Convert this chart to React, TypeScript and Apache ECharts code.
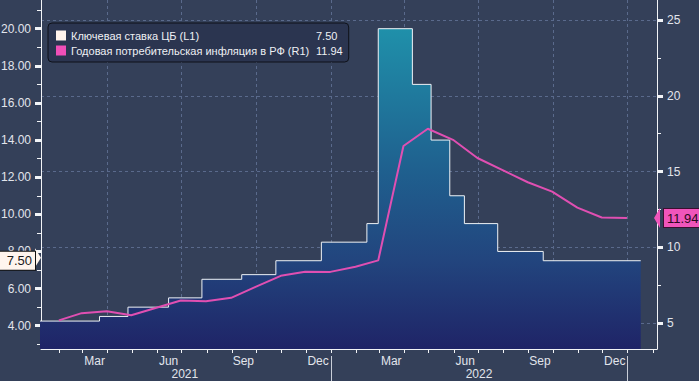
import React, { useEffect, useRef } from 'react';
import * as echarts from 'echarts';

// Key rate (L1): change dates and values (step)
const rateDates = ['2021-01-01', '2021-03-22', '2021-04-26', '2021-06-15', '2021-07-26', '2021-09-13', '2021-10-25', '2021-12-20', '2022-02-14', '2022-02-28', '2022-04-11', '2022-05-04', '2022-05-27', '2022-06-14', '2022-07-25', '2022-09-19', '2023-01-17'];
const rateValues = [4.25, 4.5, 5.0, 5.5, 6.5, 6.75, 7.5, 8.5, 9.5, 20, 17, 14, 11, 9.5, 8, 7.5, 7.5];

// Annual CPI inflation (R1), month-end points
const inflationDates = ['2021-01-31', '2021-02-28', '2021-03-31', '2021-04-30', '2021-05-31', '2021-06-30', '2021-07-31', '2021-08-31', '2021-09-30', '2021-10-31', '2021-11-30', '2021-12-31', '2022-01-31', '2022-02-28', '2022-03-31', '2022-04-30', '2022-05-31', '2022-06-30', '2022-07-31', '2022-08-31', '2022-09-30', '2022-10-31', '2022-11-30', '2022-12-31'];
const inflationValues = [5.19, 5.67, 5.79, 5.53, 6.02, 6.5, 6.46, 6.68, 7.4, 8.13, 8.4, 8.39, 8.73, 9.15, 16.69, 17.83, 17.1, 15.9, 15.1, 14.3, 13.68, 12.63, 11.98, 11.94];

const seriesNames = ['Ключевая ставка ЦБ (L1)', 'Годовая потребительская инфляция в РФ (R1)'];

// Axis ticks / labels
const monthNames = ['Jan', 'Feb', 'Mar', 'Apr', 'May', 'Jun', 'Jul', 'Aug', 'Sep', 'Oct', 'Nov', 'Dec'];
const monthTickDates = ['2021-02-01', '2021-03-01', '2021-04-01', '2021-05-01', '2021-06-01', '2021-07-01', '2021-08-01', '2021-09-01', '2021-10-01', '2021-11-01', '2021-12-01', '2022-01-01', '2022-02-01', '2022-03-01', '2022-04-01', '2022-05-01', '2022-06-01', '2022-07-01', '2022-08-01', '2022-09-01', '2022-10-01', '2022-11-01', '2022-12-01', '2023-01-01', '2023-02-01'];
const monthLabelDates = ['2021-03-16', '2021-06-15', '2021-09-15', '2021-12-16', '2022-03-16', '2022-06-15', '2022-09-15', '2022-12-16'];
const quarterGridDates = ['2021-04-01', '2021-07-01', '2021-10-01', '2022-01-01', '2022-04-01', '2022-07-01', '2022-10-01', '2023-01-01'];
const yearSeparatorDates = ['2022-01-01', '2023-01-01'];
const yearLabelDates = ['2021-07-05', '2022-07-02'];
const yearLabels = ['2021', '2022'];

const leftLabelValues = [4, 6, 8, 10, 12, 14, 16, 18, 20];
const leftTickValues = [3, 4, 5, 6, 7, 8, 9, 10, 11, 12, 13, 14, 15, 16, 17, 18, 19, 20, 21];
const rightLabelValues = [5, 10, 15, 20, 25];
const rightTickValues = [5, 7.5, 10, 12.5, 15, 17.5, 20, 22.5, 25];

const X_MIN = '2021-01-09';
const X_MAX = '2023-02-06';
const L_MIN = 2.745, L_MAX = 21.546;
const R_MIN = 3.305, R_MAX = 26.32;

const FONT = 'Liberation Sans';
const TXT = '#e2e5ec';
const AXIS = '#f2f4f7';

const ts = (s: string) => Date.parse(s + 'T00:00:00Z');

export default function App() {
  const ref = useRef<HTMLDivElement>(null);
  useEffect(() => {
    if (!ref.current) return;
    const chart = echarts.init(ref.current, undefined, { renderer: 'svg' });
    const lastRate = rateValues[rateValues.length - 1];
    const lastInfl = inflationValues[inflationValues.length - 1];
    const legendValues: Record<string, string> = {
      [seriesNames[0]]: lastRate.toFixed(2),
      [seriesNames[1]]: lastInfl.toFixed(2),
    };
    const yearMap: Record<number, string> = {};
    yearLabelDates.forEach((d, i) => { yearMap[ts(d)] = yearLabels[i]; });

    const baseX = { type: 'value', min: ts(X_MIN), max: ts(X_MAX), gridIndex: 0, position: 'bottom', scale: true };
    const hiddenY = {
      axisLine: { show: false }, axisLabel: { show: false }, splitLine: { show: false },
    };

    chart.setOption({
      animation: false,
      backgroundColor: '#344059',
      textStyle: { fontFamily: FONT },
      grid: { left: 41, right: 42, top: 0, bottom: 32, containLabel: false, outerBoundsMode: 'none' },
      legend: {
        orient: 'vertical',
        left: 48,
        top: 23,
        padding: [6, 6, 5, 8],
        itemGap: 2,
        itemWidth: 10,
        itemHeight: 10,
        icon: 'rect',
        backgroundColor: '#2b3550',
        borderColor: '#0e1119',
        borderWidth: 1,
        borderRadius: 4,
        data: seriesNames,
        formatter: (name: string) => `{n|${name}}{v|${legendValues[name]}}`,
        textStyle: {
          color: '#eef0f4', fontSize: 11, fontFamily: FONT, lineHeight: 13,
          rich: {
            n: { width: 245, color: '#eef0f4', fontSize: 11, fontFamily: FONT, lineHeight: 13 },
            v: { color: '#eef0f4', fontSize: 11, fontFamily: FONT, lineHeight: 13 },
          },
        },
      },
      xAxis: [
        {
          ...baseX,
          axisLine: { show: true, onZero: false, lineStyle: { color: AXIS, width: 1 } },
          axisTick: { show: true, length: 4, customValues: monthTickDates.map(ts), lineStyle: { color: AXIS } },
          axisLabel: {
            show: true, customValues: monthLabelDates.map(ts), margin: 6, color: TXT, fontSize: 12, fontFamily: FONT,
            formatter: (v: number) => monthNames[new Date(v).getUTCMonth()],
          },
          splitLine: { show: false },
        },
        {
          ...baseX,
          offset: 7,
          axisLine: { show: false, onZero: false },
          axisTick: { show: true, length: 32, customValues: yearSeparatorDates.map(ts), lineStyle: { color: '#c9ced8', width: 1 } },
          axisLabel: {
            show: true, customValues: yearLabelDates.map(ts), margin: 12, color: TXT, fontSize: 12, fontFamily: FONT,
            formatter: (v: number) => yearMap[v] || '',
          },
          splitLine: { show: false },
        },
        {
          ...baseX,
          axisLine: { show: false, onZero: false },
          axisTick: { show: false, customValues: quarterGridDates.map(ts) },
          axisLabel: { show: false },
          splitLine: { show: true, lineStyle: { color: '#5a6a8c', type: [3, 3], width: 1 } },
        },
      ],
      yAxis: [
        {
          type: 'value', position: 'left', min: L_MIN, max: L_MAX,
          axisLine: { show: true, onZero: false, lineStyle: { color: AXIS } },
          axisTick: { show: true, length: 4, customValues: leftTickValues, lineStyle: { color: AXIS } },
          axisLabel: {
            show: true, customValues: leftLabelValues, margin: 10, color: TXT, fontSize: 12, fontFamily: FONT,
            formatter: (v: number) => v.toFixed(2),
          },
          splitLine: { show: false },
        },
        {
          type: 'value', position: 'right', min: R_MIN, max: R_MAX,
          axisLine: { show: true, onZero: false, lineStyle: { color: AXIS } },
          axisTick: { show: true, length: 4, customValues: rightTickValues, lineStyle: { color: AXIS } },
          axisLabel: {
            show: true, customValues: rightLabelValues, margin: 10, color: TXT, fontSize: 12, fontFamily: FONT,
            formatter: (v: number) => String(v),
          },
          splitLine: { show: false },
        },
        {
          type: 'value', position: 'right', min: R_MIN, max: R_MAX, ...hiddenY,
          axisTick: { show: false, customValues: rightLabelValues },
          splitLine: { show: true, lineStyle: { color: '#5a6a8c', type: [3, 3], width: 1 } },
        },
        {
          type: 'value', position: 'left', min: L_MIN, max: L_MAX, ...hiddenY,
          axisTick: { show: true, length: 6, customValues: leftLabelValues, lineStyle: { color: AXIS, width: 3 } },
        },
        {
          type: 'value', position: 'right', min: R_MIN, max: R_MAX, ...hiddenY,
          axisTick: { show: true, length: 6, customValues: rightLabelValues, lineStyle: { color: AXIS, width: 3 } },
        },
      ],
      series: [
        {
          name: seriesNames[0],
          type: 'line',
          step: 'end',
          xAxisIndex: 0,
          yAxisIndex: 0,
          symbol: 'none',
          data: rateDates.map((d, i) => [ts(d), rateValues[i]]),
          itemStyle: { color: '#fff3ec' },
          lineStyle: { color: '#eef2f6', width: 1 },
          areaStyle: {
            origin: 'start',
            opacity: 1,
            color: new echarts.graphic.LinearGradient(0, 0, 0, 1, [
              { offset: 0, color: '#1f90aa' },
              { offset: 0.45, color: '#1f5f8e' },
              { offset: 0.72, color: '#22457e' },
              { offset: 1, color: '#1f2467' },
            ]),
          },
          z: 2,
        },
        {
          name: seriesNames[1],
          type: 'line',
          xAxisIndex: 0,
          yAxisIndex: 1,
          symbol: 'none',
          data: inflationDates.map((d, i) => [ts(d), inflationValues[i]]),
          itemStyle: { color: '#f04fb8' },
          lineStyle: { color: '#e04fb2', width: 2 },
          z: 3,
        },
        {
          name: 'rateTag',
          type: 'line',
          xAxisIndex: 0,
          yAxisIndex: 0,
          data: [],
          clip: false,
          z: 5,
          markLine: {
            silent: true,
            symbol: ['path://M0,0L1,1L0,2Z', 'none'],
            symbolSize: [6, 19],
            symbolOffset: [-3, 0],
            symbolRotate: 0,
            lineStyle: { width: 0, color: '#fff5ee' },
            data: [{ yAxis: lastRate }],
            label: {
              show: true, position: 'start', distance: 6,
              formatter: () => lastRate.toFixed(2),
              backgroundColor: '#fff5ee', color: '#1a1a1a', borderColor: '#111', borderWidth: 1,
              padding: [3, 3, 2, 9], fontSize: 13, fontFamily: FONT,
            },
          },
        },
        {
          name: 'inflTag',
          type: 'line',
          xAxisIndex: 0,
          yAxisIndex: 1,
          data: [],
          clip: false,
          z: 5,
          markLine: {
            silent: true,
            symbol: ['none', 'path://M1,0L0,1L1,2Z'],
            symbolSize: [6, 20],
            symbolOffset: [3, 0],
            symbolRotate: 0,
            lineStyle: { width: 0, color: '#f055bb' },
            data: [{ yAxis: lastInfl }],
            label: {
              show: true, position: 'end', distance: 7,
              formatter: () => lastInfl.toFixed(2),
              backgroundColor: '#f055bb', color: '#2a0820', borderColor: '#3a1030', borderWidth: 1,
              padding: [3, 6, 2, 3], fontSize: 13, fontFamily: FONT,
            },
          },
        },
      ],
    });
    return () => chart.dispose();
  }, []);
  return <div ref={ref} style={{ width: 699, height: 381, position: 'absolute', left: 0, top: 0 }} />;
}
